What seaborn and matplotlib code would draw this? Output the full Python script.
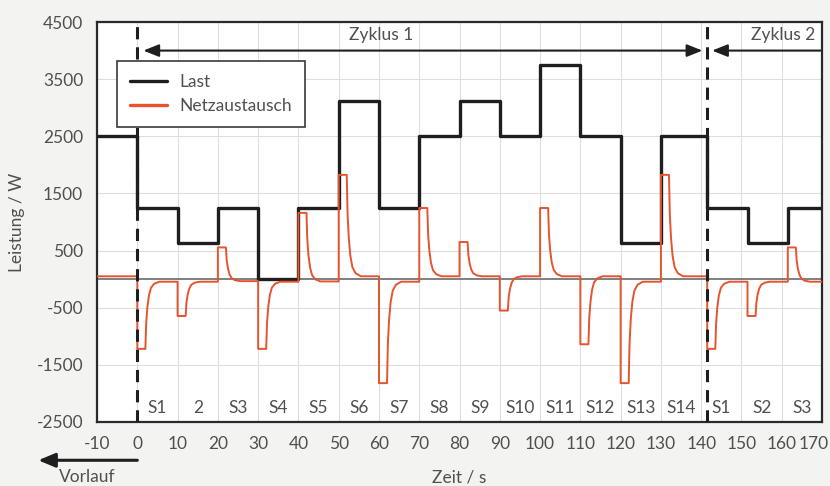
import matplotlib
matplotlib.use("Agg")
import matplotlib.pyplot as plt
import matplotlib.transforms as mtransforms
import seaborn as sns
import pandas as pd

# ---------------- data ----------------
last_t = [-10, 0, 10, 20, 30, 40, 50, 60, 70, 80, 90, 100, 110, 120, 130, 141.5, 151.5, 161.5, 170]
last_w = [2500, 1250, 625, 1250, 0, 1250, 3125, 1250, 2500, 3125, 2500, 3750, 2500, 625, 2500, 1250, 625, 1250, 1250]

netz_t = [-10,
          0, 0, 2, 2.2, 2.5, 2.9, 3.4, 4.2, 5.5,
          10, 10, 12, 12.2, 12.5, 12.9, 13.4, 14.2, 15.5,
          20, 20, 22, 22.2, 22.5, 22.9, 23.4, 24.2, 25.5,
          30, 30, 32, 32.2, 32.5, 32.9, 33.4, 34.2, 35.5,
          40, 40, 42, 42.2, 42.5, 42.9, 43.4, 44.2, 45.5,
          50, 50, 52, 52.2, 52.5, 52.9, 53.4, 54.2, 55.5,
          60, 60, 62, 62.2, 62.5, 62.9, 63.4, 64.2, 65.5,
          70, 70, 72, 72.2, 72.5, 72.9, 73.4, 74.2, 75.5,
          80, 80, 82, 82.2, 82.5, 82.9, 83.4, 84.2, 85.5,
          90, 90, 92, 92.2, 92.5, 92.9, 93.4, 94.2, 95.5,
          100, 100, 102, 102.2, 102.5, 102.9, 103.4, 104.2, 105.5,
          110, 110, 112, 112.2, 112.5, 112.9, 113.4, 114.2, 115.5,
          120, 120, 122, 122.2, 122.5, 122.9, 123.4, 124.2, 125.5,
          130, 130, 132, 132.2, 132.5, 132.9, 133.4, 134.2, 135.5,
          141.5, 141.5, 143.5, 143.7, 144.0, 144.4, 144.9, 145.7, 147.0,
          151.5, 151.5, 153.5, 153.7, 154.0, 154.4, 154.9, 155.7, 157.0,
          161.5, 161.5, 163.5, 163.7, 164.0, 164.4, 164.9, 165.7, 167.0,
          170]
netz_w = [50,
          50, -1220, -1220, -774, -492, -280, -151, -80, -45,
          -45, -645, -645, -417, -273, -165, -99, -63, -45,
          -45, 555, 555, 331, 189, 83, 18, -17, -35,
          -35, -1220, -1220, -774, -492, -280, -151, -80, -45,
          -45, 1160, 1160, 704, 416, 200, 68, -4, -40,
          -40, 1825, 1825, 1150, 725, 405, 210, 103, 50,
          50, -1820, -1820, -1146, -720, -400, -205, -98, -45,
          -45, 1245, 1245, 791, 504, 289, 158, 86, 50,
          50, 650, 650, 422, 278, 170, 104, 68, 50,
          50, -550, -550, -322, -178, -70, -4, 32, 50,
          50, 1245, 1245, 791, 504, 289, 158, 86, 50,
          50, -1140, -1140, -688, -402, -188, -57, 14, 50,
          50, -1820, -1820, -1146, -720, -400, -205, -98, -45,
          -45, 1825, 1825, 1150, 725, 405, 210, 103, 50,
          50, -1220, -1220, -774, -492, -280, -151, -80, -45,
          -45, -645, -645, -417, -273, -165, -99, -63, -45,
          -45, 555, 555, 327, 183, 75, 9, -27, -45,
          -45]

seg_labels = ['S1', '2', 'S3', 'S4', 'S5', 'S6', 'S7', 'S8', 'S9', 'S10', 'S11',
              'S12', 'S13', 'S14', 'S1', 'S2', 'S3']
seg_x = [5, 15, 25, 35, 45, 55, 65, 75, 85, 95, 105, 115, 125, 135, 145, 155, 165]

cycle_starts = [0, 141.5]
x_ticks = list(range(-10, 171, 10))
y_ticks = [-2500, -1500, -500, 500, 1500, 2500, 3500, 4500]

# ---------------- style ----------------
sns.set_theme(style="white")
plt.rcParams['font.family'] = ['Lato', 'DejaVu Sans']
plt.rcParams['axes.unicode_minus'] = False
TXT = '#505050'
RED = '#E5532F'
BLK = '#1e1e1e'
FS = 12.5

fig = plt.figure(figsize=(8.3, 4.86), dpi=100, facecolor='#f3f3f1')
ax = fig.add_axes([0.1169, 0.1317, 0.8735, 0.823])
ax.set_facecolor('white')

ax.axhline(0, color='#6a6a6a', lw=1.2, zorder=1.5)

df_last = pd.DataFrame({'t': last_t, 'w': last_w})
df_netz = pd.DataFrame({'t': netz_t, 'w': netz_w})
sns.lineplot(data=df_last, x='t', y='w', ax=ax, color=BLK, lw=2.4,
             drawstyle='steps-post', estimator=None, sort=False, label='Last', zorder=3)
sns.lineplot(data=df_netz, x='t', y='w', ax=ax, color=RED, lw=1.4,
             estimator=None, sort=False, label='Netzaustausch', zorder=4)

for c in cycle_starts:
    ax.axvline(c, color=BLK, lw=2.2, ls=(0, (4, 2.6)), zorder=5)

ax.set_xlim(-10, 170)
ax.set_ylim(-2500, 4500)
ax.set_xticks(x_ticks)
ax.set_yticks(y_ticks)
ax.grid(True, color='#dedede', lw=0.8)
ax.set_axisbelow(True)
ax.tick_params(length=0, labelsize=FS, colors=TXT, pad=10)
for s in ax.spines.values():
    s.set_color('#2a2a2a')
    s.set_linewidth(1.6)

# keep the last x tick label inside the figure
lbl = ax.get_xticklabels()[-1]
lbl.set_transform(lbl.get_transform() + mtransforms.ScaledTranslation(-8 / 100, 0, fig.dpi_scale_trans))

ax.set_xlabel('Zeit / s', fontsize=FS, color=TXT)
ax.xaxis.set_label_coords(0.5, -0.14)
ax.xaxis.label.set_verticalalignment('center')
ax.set_ylabel('Leistung / W', fontsize=FS, color=TXT)
ax.yaxis.set_label_coords(-0.11, 0.5)
ax.yaxis.label.set_verticalalignment('center')

for lab, xx in zip(seg_labels, seg_x):
    ax.text(xx, -2255, lab, ha='center', va='center', fontsize=FS, color=TXT)

# cycle arrows
ax.annotate('', xy=(1.5, 4000), xytext=(140.3, 4000),
            arrowprops=dict(arrowstyle='<|-|>,head_length=0.55,head_width=0.22',
                            mutation_scale=17, color=BLK, lw=1.5, shrinkA=0, shrinkB=0))
ax.annotate('', xy=(142.7, 4000), xytext=(169.6, 4000),
            arrowprops=dict(arrowstyle='-|>,head_length=0.55,head_width=0.22',
                            mutation_scale=17, color=BLK, lw=1.5, shrinkA=0, shrinkB=0))
ax.text(60.5, 4270, 'Zyklus 1', ha='center', va='center', fontsize=FS, color=TXT)
ax.text(168.3, 4270, 'Zyklus 2', ha='right', va='center', fontsize=FS, color=TXT)

# Vorlauf arrow
ax.annotate('', xy=(-24.6, -3170), xytext=(0, -3170), annotation_clip=False,
            arrowprops=dict(arrowstyle='-|>,head_length=0.6,head_width=0.25',
                            mutation_scale=17, color=BLK, lw=2.2, shrinkA=0, shrinkB=0))
ax.text(-12.5, -3470, 'Vorlauf', ha='center', va='center', fontsize=FS, color=TXT,
        clip_on=False)

leg = ax.legend(loc='upper left', bbox_to_anchor=(0.028, 0.9025), frameon=True,
                fancybox=False, edgecolor='#3a3a3a', framealpha=1, fontsize=FS,
                handlelength=2.1, borderpad=0.75, labelspacing=0.45,
                handletextpad=0.7, borderaxespad=0)
leg.get_frame().set_linewidth(1.2)
for t in leg.get_texts():
    t.set_color(TXT)
for h in leg.get_lines():
    h.set_linewidth(2.4)

fig.savefig('out.png', dpi=100, facecolor=fig.get_facecolor())
